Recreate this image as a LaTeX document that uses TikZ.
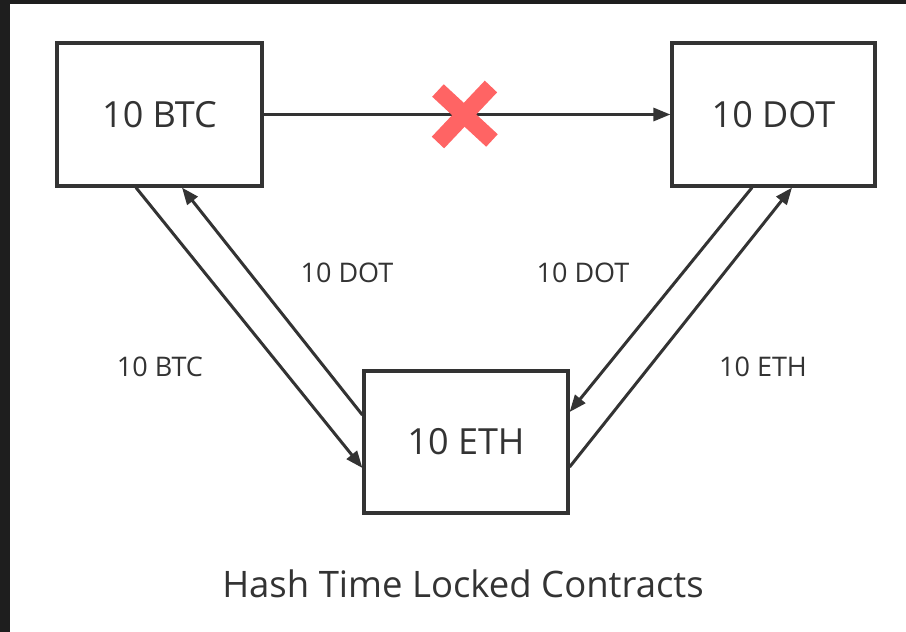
\documentclass[tikz,border=0pt]{standalone}
\usepackage{fontspec}
\setmainfont{Open Sans}
\usetikzlibrary{arrows.meta,calc}
\definecolor{ink}{HTML}{333333}
\definecolor{crossred}{HTML}{FF6464}
\definecolor{frame}{HTML}{1E1E1E}
\tikzset{
  coin/.style={draw=ink, line width=3.2pt, fill=white, inner sep=0pt,
    text=ink, font=\fontsize{36}{40}\selectfont},
  flow/.style={draw=ink, line width=3pt, -{Triangle[length=17pt,width=13pt]}},
  amount/.style={text=ink, font=\fontsize{27}{32}\selectfont, inner sep=0pt},
  crossbar/.style={draw=crossred, line width=17pt}
}
\begin{document}
\begin{tikzpicture}[x=1pt,y=-1pt]
\useasboundingbox (0,0) rectangle (906,632);
\fill[white] (0,0) rectangle (906,632);
\fill[frame] (0,0) rectangle (10,632);
\fill[frame] (0,0) rectangle (906,4);

\node[coin, minimum width=205pt, minimum height=143pt] (btc) at (159.5,114.5) {10 BTC};
\node[coin, minimum width=203pt, minimum height=143pt] (dot) at (773.5,114.5) {10 DOT};
\node[coin, minimum width=204pt, minimum height=142pt] (eth) at (466,442) {10 ETH};

\draw[flow] (btc.east) -- (dot.west);
\coordinate (xc) at ($(btc.east)!0.495!(dot.west)$);
\draw[crossbar] ($(xc)+(-27,-24)$) -- ($(xc)+(27,26)$);
\draw[crossbar] ($(xc)+(26,-28)$) -- ($(xc)+(-27,28)$);

\draw[flow] ($(btc.south)+(-23.5,0)$) -- ($(eth.west)+(0,26)$);
\draw[flow] ($(eth.west)+(0,-27)$) -- ($(btc.south)+(22.5,0)$);
\draw[flow] ($(dot.south)+(-21.5,0)$) -- ($(eth.east)+(0,-30)$);
\draw[flow] ($(eth.east)+(0,25)$) -- ($(dot.south)+(18.5,0)$);

\node[amount] (l1) at (347,273) {10 DOT};
\node[amount] (l2) at (160,367) {10 BTC};
\node[amount] (l3) at (583,273) {10 DOT};
\node[amount] (l4) at (763,367) {10 ETH};

\node[text=ink, font=\fontsize{36.5}{42}\selectfont, inner sep=0pt] (title) at (463,584) {Hash Time Locked Contracts};
\end{tikzpicture}
\end{document}
